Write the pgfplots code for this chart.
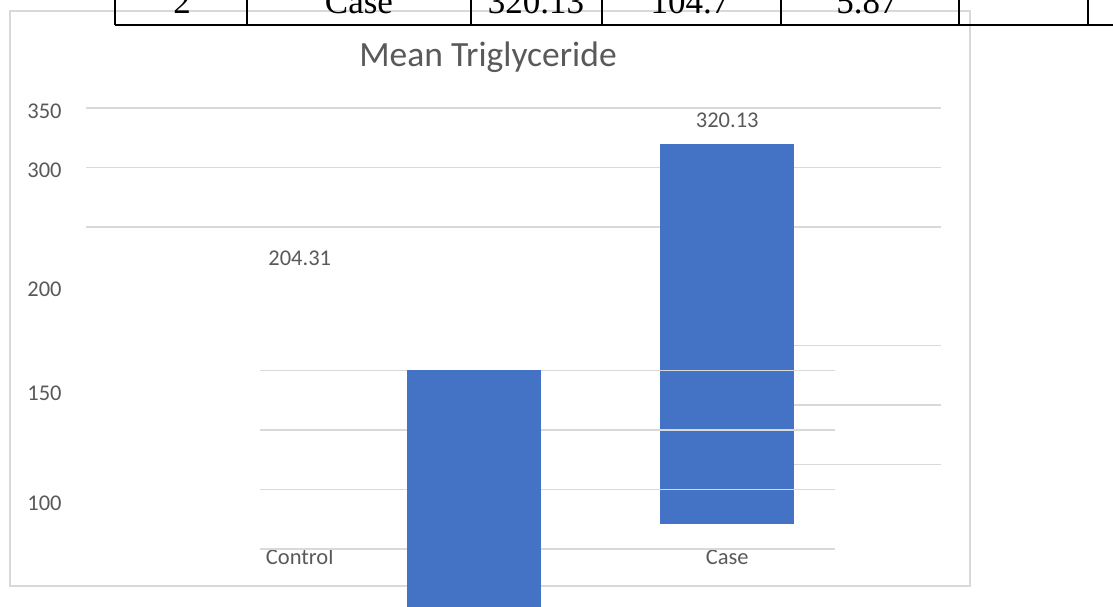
\documentclass[border=0pt]{standalone}
\usepackage{fontspec}
\setmainfont{Carlito}
\newfontfamily\tabfont{Liberation Serif}
\usepackage{pgfplots}
\pgfplotsset{compat=1.18}
\definecolor{barblue}{HTML}{4472C4}
\definecolor{gridgray}{HTML}{D9D9D9}
\definecolor{txtgray}{HTML}{595959}
\newcommand{\lblfont}{\fontsize{11.25pt}{13pt}\selectfont}

% same scale for every piece of the (broken) chart
\pgfplotsset{
  trig/.style={
    width=427.5pt, height=208pt, scale only axis,
    xmin=-0.5, xmax=1.5, ymin=0, ymax=350,
    ybar, bar width=67pt,
    axis line style={draw=none}, tick style={draw=none},
    major grid style={gridgray, line width=0.75pt},
    /pgf/number format/.cd, fixed, precision=2, assume math mode=true,
  },
  gridonly/.style={
    trig, xtick=\empty, yticklabels={}, ymajorgrids,
  },
}

\begin{document}
\begin{tikzpicture}
\useasboundingbox (0,0) rectangle (556.5pt,303pt);

% chart frame
\draw[gridgray, line width=0.8pt] (5pt,297.5pt) rectangle (485pt,10pt);
\node[font=\fontsize{17.75pt}{20pt}\selectfont, text=txtgray] at (244pt,274.5pt) {Mean Triglyceride};

% bottom of the table row above the chart
\draw[line width=0.8pt] (57.5pt,290.5pt) -- (556.5pt,290.5pt);
\foreach \xx in {57.5,123.5,235.5,301,390.5,479.5,544}
  \draw[line width=0.6pt] (\xx pt,290.5pt) -- (\xx pt,310pt);
\foreach \xx/\tt in {91/2,179.5/Case,268/320.13,345/104.7,433.5/5.87}
  \node[font=\tabfont\fontsize{17.5pt}{20pt}\selectfont, anchor=base, inner sep=0pt] at (\xx pt,296pt) {\tt};

% main part: upper grid, Case bar and both value labels
\begin{axis}[trig, at={(43pt,41pt)}, anchor=south west,
  ytick={250,300,350}, yticklabels={,300,350}, ymajorgrids,
  extra y ticks={200}, extra y tick style={grid=none},
  yticklabel style={font=\lblfont, text=txtgray, anchor=east, inner sep=0pt, xshift=-12pt, yshift=-1.5pt},
  xtick={0,1}, xticklabels={Control,Case},
  xticklabel style={font=\lblfont, text=txtgray, anchor=base, inner sep=0pt, yshift=-16pt},
  nodes near coords,
  every node near coord/.append style={font=\lblfont, text=txtgray, anchor=base, inner sep=0pt, yshift=8pt},
]
\addplot[draw=none, fill=none, bar shift=0pt] coordinates {(0,204.31)};
\addplot[fill=barblue, draw=none, bar shift=0pt] coordinates {(1,320.13)};
\end{axis}

% lower grid right of the Case bar
\begin{axis}[gridonly, at={(397pt,41pt)}, anchor=south west, width=73.5pt,
  ytick={50,100,150}]
\end{axis}

% shifted lower grid
\begin{axis}[gridonly, at={(130pt,28.5pt)}, anchor=south west, width=287.5pt,
  ytick={0,50,100,150}]
\end{axis}

% shifted Control bar
\begin{axis}[trig, at={(130pt,-3.5pt)}, anchor=south west, hide axis]
\addplot[fill=barblue, draw=none, bar shift=0pt] coordinates {(0,204.31)};
\end{axis}

\node[font=\lblfont, text=txtgray, anchor=east, inner sep=0pt] at (31pt,106.5pt) {150};
\node[font=\lblfont, text=txtgray, anchor=east, inner sep=0pt] at (31pt,51.5pt) {100};
\end{tikzpicture}
\end{document}
